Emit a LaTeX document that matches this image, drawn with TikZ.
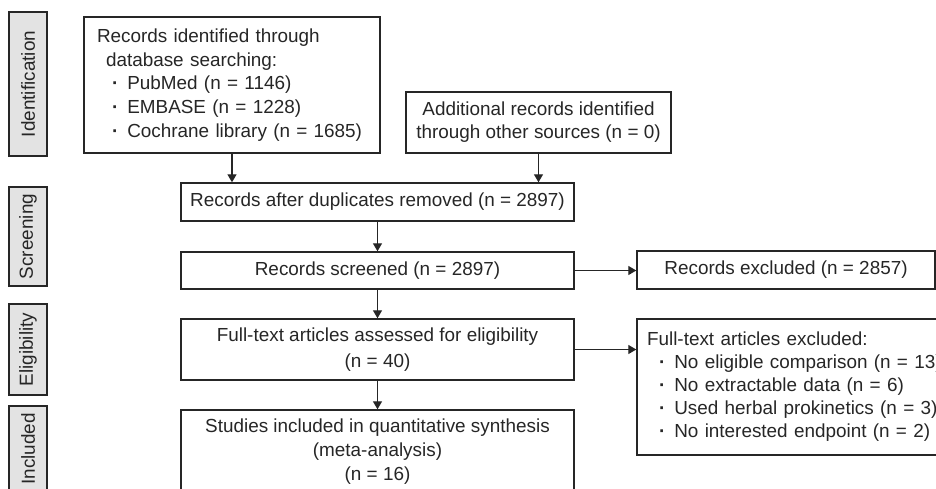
\documentclass[tikz,border=0pt]{standalone}
\usepackage{fontspec}
\setmainfont{Liberation Sans}
\usetikzlibrary{arrows.meta}
\definecolor{ink}{HTML}{262626}
\definecolor{lbl}{HTML}{E3E3E3}
\newcommand{\fsz}[1]{\fontsize{18.9}{#1}\selectfont}
\newcommand{\bul}[1]{\hspace*{#1}\textbf{·}\hspace{9pt}}
\begin{document}
\begin{tikzpicture}[x=1pt,y=-1pt,
  box/.style={draw=ink, line width=1.4pt, inner sep=0pt, text=ink, align=center},
  sidelbl/.style={draw=ink, fill=lbl, line width=1.2pt, inner sep=0pt, text=ink,
    font=\fsz{23}, rotate=90, minimum height=38pt},
  conn/.style={draw=ink, line width=1.3pt, -{Triangle[length=8pt,width=9pt]}},
]
\useasboundingbox (0,0) rectangle (936,488);
\clip (0,0) rectangle (936,488);

% side labels
\node[sidelbl, minimum width=144pt] (idlbl) at (28,84) {Identification};
\node[sidelbl, minimum width=99pt] (scrlbl) at (28,236.5) {Screening};
\node[sidelbl, minimum width=91pt] (elilbl) at (28,349.5) {Eligibility};
\node[sidelbl, minimum width=86pt] (inclbl) at (28,449) {Included};

% boxes
\node[box, minimum width=296pt, minimum height=136pt, text width=270pt, align=left, font=\fsz{23.8}]
  (box1) at (232,85) {Records identified through\\
  \hspace*{9pt}database searching:\\
  \bul{15pt}PubMed (n = 1146)\\
  \bul{15pt}EMBASE (n = 1228)\\
  \bul{15pt}Cochrane library (n = 1685)};
\node[box, minimum width=265pt, minimum height=61pt, font=\fsz{23}]
  (box2) at (538.5,122.5) {Additional records identified\\through other sources (n = 0)};
\node[box, minimum width=393pt, minimum height=38pt, font=\fsz{23}]
  (dup) at (377.5,202) {Records after duplicates removed (n = 2897)};
\node[box, minimum width=393pt, minimum height=37pt, font=\fsz{23}]
  (scr) at (377.5,270.5) {Records screened (n = 2897)};
\node[box, minimum width=298pt, minimum height=38pt, font=\fsz{23}]
  (exc) at (786,270) {Records excluded (n = 2857)};
\node[box, minimum width=393pt, minimum height=61pt, font=\fsz{26}]
  (fta) at (377.5,349.5) {Full-text articles assessed for eligibility\\(n = 40)};
\node[box, minimum width=363pt, minimum height=136pt, text width=343pt, align=left, font=\fsz{23}]
  (fte) at (818.5,387) {Full-text articles excluded:\\
  \bul{12pt}No eligible comparison (n = 13)\\
  \bul{12pt}No extractable data (n = 6)\\
  \bul{12pt}Used herbal prokinetics (n = 3)\\
  \bul{12pt}No interested endpoint (n = 2)};
\node[box, minimum width=393pt, minimum height=84pt, font=\fsz{24}]
  (stu) at (377.5,452) {Studies included in quantitative synthesis\\(meta-analysis)\\(n = 16)};

% connectors
\draw[conn] (box1.south) -- (box1.south |- dup.north);
\draw[conn] (box2.south) -- (box2.south |- dup.north);
\draw[conn] (dup.south) -- (scr.north);
\draw[conn] (scr.east) -- (scr.east -| exc.west);
\draw[conn] (scr.south) -- (fta.north);
\draw[conn] (fta.east) -- (fta.east -| fte.west);
\draw[conn] (fta.south) -- (stu.north);
\end{tikzpicture}
\end{document}
